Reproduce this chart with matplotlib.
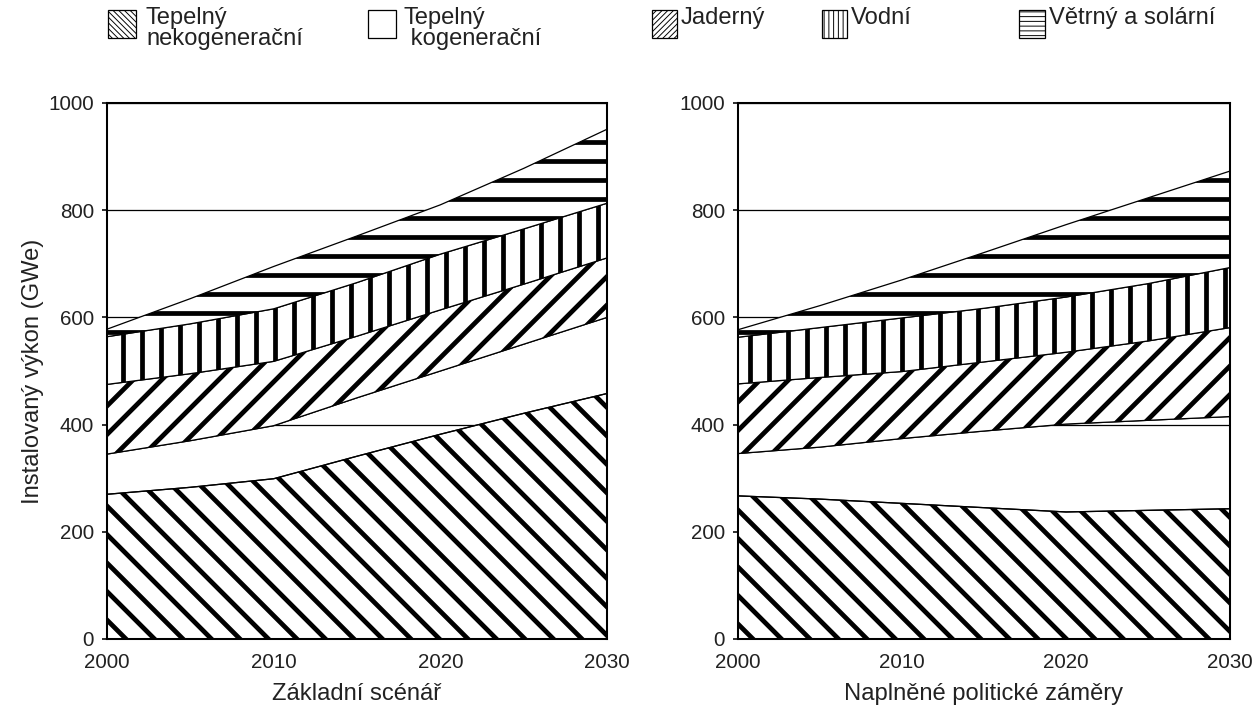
import numpy as np
import matplotlib
matplotlib.use("Agg")
import matplotlib.pyplot as plt
import matplotlib.hatch as mhatch
from matplotlib.patches import Rectangle

# ---------------- data ----------------
years = [2000, 2005, 2010, 2015, 2020, 2025, 2030]
categories = ["Tepelný\nnekogenerační", "Tepelný\n kogenerační", "Jaderný", "Vodní",
              "Větrný a solární"]

zakladni_nekogen = [270, 283, 299, 341, 382, 421, 458]
zakladni_kogen = [75, 87, 99, 109, 118, 129, 142]
zakladni_jaderny = [130, 125, 120, 115, 114, 112, 111]
zakladni_vodni = [89, 93, 98, 100, 104, 103, 102]
zakladni_vetrny = [14, 47, 79, 87, 92, 113, 138]

politicke_nekogen = [267, 261, 253, 245, 237, 240, 243]
politicke_kogen = [79, 97, 121, 143, 164, 168, 172]
politicke_jaderny = [130, 130, 125, 129, 134, 148, 166]
politicke_vodni = [87, 93, 100, 100, 103, 107, 112]
politicke_vetrny = [14, 41, 71, 104, 135, 160, 180]

panel_titles = ["Základní scénář", "Naplněné politické záměry"]
y_ticks = [0, 200, 400, 600, 800, 1000]
x_ticks = [2000, 2010, 2020, 2030]
y_label = "Instalovaný výkon (GWe)"

# ---------------- styling ----------------
class _DenseNorthEast(mhatch.NorthEastHatch):
    def __init__(self, hatch, density):
        n = hatch.count('/') + hatch.count('x') + hatch.count('X')
        self.num_lines = int(n * density * 4 / 3)
        self.num_vertices = (self.num_lines + 1) * 2 if self.num_lines else 0


class _DenseSouthEast(mhatch.SouthEastHatch):
    def __init__(self, hatch, density):
        n = hatch.count('\\') + hatch.count('x') + hatch.count('X')
        self.num_lines = int(n * density * 4 / 3)
        self.num_vertices = (self.num_lines + 1) * 2 if self.num_lines else 0


for i, ht in enumerate(mhatch._hatch_types):
    if ht is mhatch.NorthEastHatch:
        mhatch._hatch_types[i] = _DenseNorthEast
    elif ht is mhatch.SouthEastHatch:
        mhatch._hatch_types[i] = _DenseSouthEast

plt.rcParams['font.family'] = ['Liberation Sans', 'DejaVu Sans']
plt.rcParams['hatch.color'] = 'black'
plt.rcParams['hatch.linewidth'] = 3.0
TXT = '#222222'

panel_hatches = ['\\', None, '/', '|', '-']
legend_hatches = ['\\\\\\\\\\', None, '/////', '||||', '----']

W, H, DPI = 1253, 710, 114
fig = plt.figure(figsize=(W / DPI, H / DPI), dpi=DPI)
fig.patch.set_facecolor('white')

ax_rects = [(107 / W, (H - 639) / H, 500 / W, 536 / H),
            (738 / W, (H - 639) / H, 492 / W, 536 / H)]

panels = [
    [zakladni_nekogen, zakladni_kogen, zakladni_jaderny, zakladni_vodni, zakladni_vetrny],
    [politicke_nekogen, politicke_kogen, politicke_jaderny, politicke_vodni, politicke_vetrny],
]

for k, (rect, series, title) in enumerate(zip(ax_rects, panels, panel_titles)):
    ax = fig.add_axes(rect)
    stack = np.array(series, dtype=float)
    top = np.cumsum(stack, axis=0)
    bottom = np.vstack([np.zeros(stack.shape[1]), top[:-1]])
    for i in range(len(series)):
        h = panel_hatches[i]
        ax.fill_between(years, bottom[i], top[i],
                        facecolor='none' if h is None else 'white',
                        edgecolor='black', linewidth=0.8, hatch=h, zorder=2)
    ax.set_xlim(years[0], years[-1])
    ax.set_ylim(0, 1000)
    ax.set_xticks(x_ticks)
    ax.set_yticks(y_ticks)
    ax.yaxis.grid(True, color='black', linewidth=0.8)
    ax.set_axisbelow(True)
    for s in ax.spines.values():
        s.set_linewidth(1.3)
        s.set_zorder(5)
    ax.tick_params(axis='x', length=0, pad=9, labelsize=13, labelcolor=TXT)
    ax.tick_params(axis='y', length=3.2, width=1.0, direction='out', pad=5,
                   labelsize=13, labelcolor=TXT)
    ax.set_xlabel(title, fontsize=15, color=TXT, labelpad=7)
    if k == 0:
        ax.set_ylabel(y_label, fontsize=15, color=TXT, labelpad=3)

# ---------------- legend ----------------
plt.rcParams['hatch.linewidth'] = 0.6
leg_box_x = [108, 368, 652, 822, 1019]
leg_box_w = [28, 28, 25, 25, 26]
leg_text_x = [146, 404, 681, 851, 1049]
box_h, box_top = 28, 10
for i, lab in enumerate(categories):
    r = Rectangle((leg_box_x[i] / W, 1 - (box_top + box_h) / H), leg_box_w[i] / W, box_h / H,
                  transform=fig.transFigure, facecolor='white', edgecolor='black',
                  linewidth=0.8, hatch=legend_hatches[i])
    fig.add_artist(r)
    fig.text(leg_text_x[i] / W, 1 - 7 / H, lab, fontsize=15, color=TXT,
             ha='left', va='top', linespacing=0.95)

fig.savefig('out.png', dpi=DPI)
